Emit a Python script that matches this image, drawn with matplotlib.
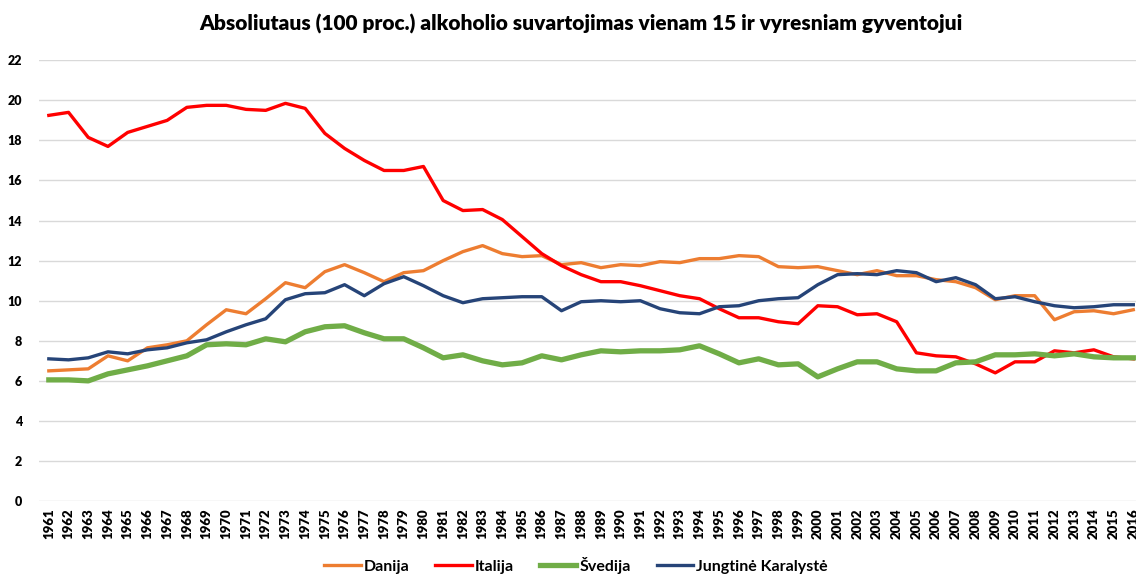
import matplotlib.pyplot as plt

years = list(range(1961, 2017))

danija = [6.5, 6.55, 6.6, 7.25, 7.0, 7.65, 7.8, 8.0, 8.8, 9.55,
          9.35, 10.1, 10.9, 10.65, 11.45, 11.8, 11.4, 10.95, 11.4, 11.5,
          12.0, 12.45, 12.75, 12.35, 12.2, 12.25, 11.8, 11.9, 11.65, 11.8,
          11.75, 11.95, 11.9, 12.1, 12.1, 12.25, 12.2, 11.7, 11.65, 11.7,
          11.5, 11.3, 11.5, 11.25, 11.25, 11.05, 10.95, 10.65, 10.05, 10.25,
          10.25, 9.05, 9.45, 9.5, 9.35, 9.55]

italija = [19.25, 19.4, 18.15, 17.7, 18.4, 18.7, 19.0, 19.65, 19.75, 19.75,
           19.55, 19.5, 19.85, 19.6, 18.35, 17.6, 17.0, 16.5, 16.5, 16.7,
           15.0, 14.5, 14.55, 14.05, 13.2, 12.35, 11.75, 11.3, 10.95, 10.95,
           10.75, 10.5, 10.25, 10.1, 9.6, 9.15, 9.15, 8.95, 8.85, 9.75,
           9.7, 9.3, 9.35, 8.95, 7.4, 7.25, 7.2, 6.85, 6.4, 6.95,
           6.95, 7.5, 7.4, 7.55, 7.2, 7.1]

svedija = [6.05, 6.05, 6.0, 6.35, 6.55, 6.75, 7.0, 7.25, 7.8, 7.85,
           7.8, 8.1, 7.95, 8.45, 8.7, 8.75, 8.4, 8.1, 8.1, 7.65,
           7.15, 7.3, 7.0, 6.8, 6.9, 7.25, 7.05, 7.3, 7.5, 7.45,
           7.5, 7.5, 7.55, 7.75, 7.35, 6.9, 7.1, 6.8, 6.85, 6.2,
           6.6, 6.95, 6.95, 6.6, 6.5, 6.5, 6.9, 6.95, 7.3, 7.3,
           7.35, 7.25, 7.35, 7.2, 7.15, 7.15]

jk = [7.1, 7.05, 7.15, 7.45, 7.35, 7.55, 7.65, 7.9, 8.05, 8.45,
      8.8, 9.1, 10.05, 10.35, 10.4, 10.8, 10.25, 10.85, 11.2, 10.75,
      10.25, 9.9, 10.1, 10.15, 10.2, 10.2, 9.5, 9.95, 10.0, 9.95,
      10.0, 9.6, 9.4, 9.35, 9.7, 9.75, 10.0, 10.1, 10.15, 10.8,
      11.3, 11.35, 11.3, 11.5, 11.4, 10.95, 11.15, 10.8, 10.1, 10.2,
      9.95, 9.75, 9.65, 9.7, 9.8, 9.8]

plt.rcParams['font.family'] = ['Lato', 'DejaVu Sans']
plt.rcParams['font.weight'] = 'bold'

fig = plt.figure(figsize=(11.36, 5.74), dpi=100)
ax = fig.add_axes([0.0343, 0.127, 0.972, 0.768])

ax.plot(years, danija, color='#ED7D31', lw=2.4, label='Danija')
ax.plot(years, italija, color='#FF0000', lw=2.4, label='Italija')
ax.plot(years, svedija, color='#70AD47', lw=3.8, label='Švedija')
ax.plot(years, jk, color='#264478', lw=2.4, label='Jungtinė Karalystė')

ax.set_xlim(1960.5, 2016.5)
ax.set_ylim(0, 22)
ax.set_yticks(range(0, 23, 2))
ax.set_xticks(years)
ax.set_xticklabels([str(y) for y in years], rotation=90, fontsize=9.5, fontweight='heavy')
ax.tick_params(axis='y', labelsize=9, length=0, pad=12)
ax.tick_params(axis='x', length=0, pad=5)
for lab in ax.get_yticklabels():
    lab.set_fontweight('heavy')
ax.grid(axis='y', color='#D9D9D9', lw=1)
ax.set_axisbelow(True)
for s in ax.spines.values():
    s.set_visible(False)

fig.suptitle('Absoliutaus (100 proc.) alkoholio suvartojimas vienam 15 ir vyresniam gyventojui',
             x=0.511, y=0.975, fontsize=15, fontweight='heavy')
fig.legend(loc='lower center', bbox_to_anchor=(0.507, -0.025), ncol=4, frameon=False,
           fontsize=11.5, handlelength=2.3, columnspacing=1.6, handletextpad=0.2)

fig.savefig('out.png', dpi=100)
